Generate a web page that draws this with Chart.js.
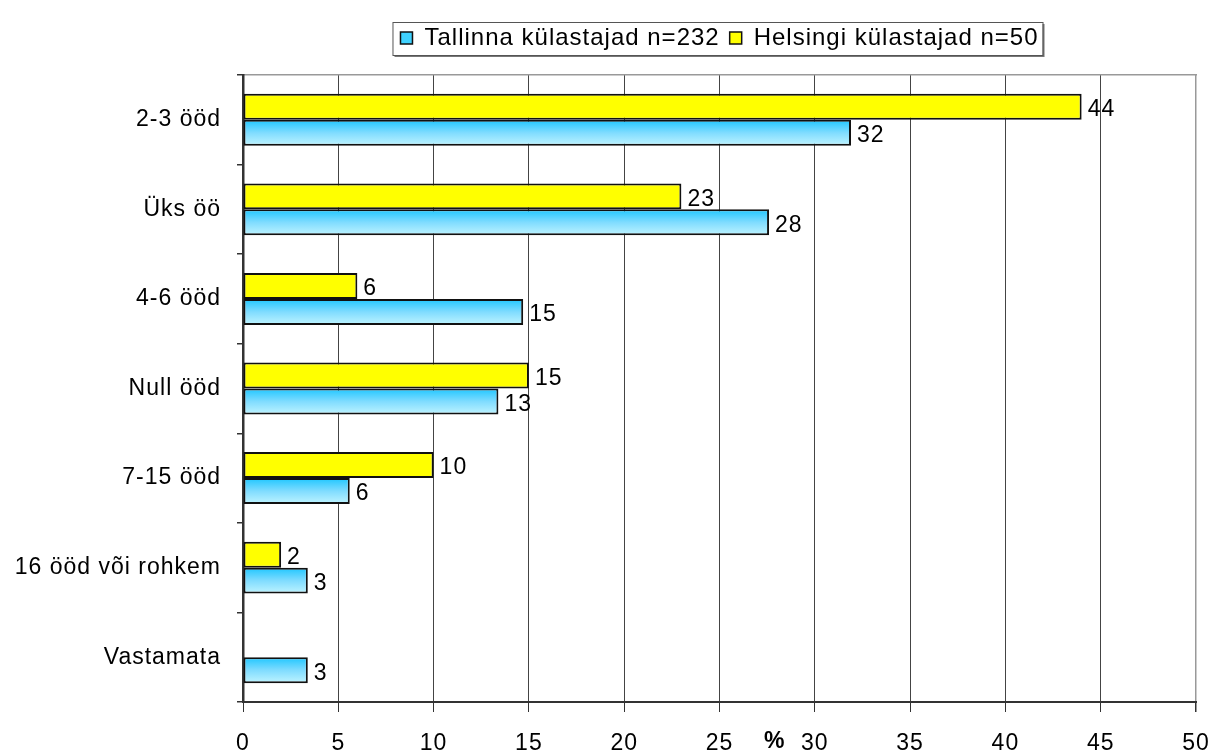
<!DOCTYPE html>
<html>
<head>
<meta charset="utf-8">
<script src="https://cdn.jsdelivr.net/npm/chart.js@4.4.0/dist/chart.umd.min.js"></script>
<style>
  html, body { margin: 0; padding: 0; background: #fff; }
  #wrap { width: 1212px; height: 755px; }
</style>
</head>
<body>
<div id="wrap"><canvas id="chart" width="1212" height="755"></canvas></div>
<script>
// andmed
const kategooriad = ['2-3 ööd', 'Üks öö', '4-6 ööd', 'Null ööd', '7-15 ööd', '16 ööd või rohkem', 'Vastamata'];
const tallinn = [31.9, 27.6, 14.7, 13.4, 5.6, 3.4, 3.4];
const helsingi = [44, 23, 6, 15, 10, 2, null];
const xTicks = [0, 5, 10, 15, 20, 25, 30, 35, 40, 45, 50];
const seeriaNimed = ['Tallinna külastajad n=232', 'Helsingi külastajad n=50'];

const FONT = 'Arial, "Liberation Sans", sans-serif';
const FS = 23;

const tulpPlugin = {
  id: 'tulpPlugin',
  beforeLayout(chart) {
    // veidi laiem kiri nagu originaalis (ka mõõtmisel)
    chart.ctx.letterSpacing = '1px';
  },
  beforeDraw(chart) {
    const ctx = chart.ctx;
    ctx.letterSpacing = '1px';
    // legendi raam (enne legendi teksti)
    const lg = chart.legend;
    if (lg && lg.legendHitBoxes.length) {
      const hb = lg.legendHitBoxes;
      const l = Math.min(...hb.map(b => b.left)) - 8;
      const r = Math.max(...hb.map(b => b.left + b.width)) + 4;
      const t = hb[0].top - 4;
      const b = hb[0].top + hb[0].height + 5;
      ctx.save();
      ctx.fillStyle = '#777';
      ctx.fillRect(l + 2, t + 2, r - l, b - t);
      ctx.fillStyle = '#fff';
      ctx.fillRect(l, t, r - l, b - t);
      ctx.strokeStyle = '#555';
      ctx.lineWidth = 1;
      ctx.strokeRect(l + 0.5, t + 0.5, r - l, b - t);
      ctx.restore();
    }
  },
  beforeDatasetsDraw(chart) {
    // sinine gradient iga tulba sees
    const ctx = chart.ctx;
    chart.data.datasets.forEach((ds, i) => {
      if (!ds.gradient) return;
      chart.getDatasetMeta(i).data.forEach(el => {
        const top = el.y - el.height / 2;
        const g = ctx.createLinearGradient(0, top, 0, top + el.height);
        g.addColorStop(0, '#1ec6ff');
        g.addColorStop(0.5, '#80dcff');
        g.addColorStop(1, '#bff4ff');
        el.options.backgroundColor = g;
      });
    });
  },
  afterDatasetsDraw(chart) {
    const ctx = chart.ctx;
    ctx.save();
    ctx.font = FS + 'px ' + FONT;
    ctx.fillStyle = '#000';
    ctx.textBaseline = 'middle';
    ctx.textAlign = 'left';
    chart.data.datasets.forEach((ds, i) => {
      chart.getDatasetMeta(i).data.forEach((el, j) => {
        const v = ds.data[j];
        if (v === null || v === undefined) return;
        ctx.fillText(v.toFixed(0), el.x + 6, el.y + 3);
      });
    });
    ctx.restore();
  },
  afterDraw(chart) {
    const ctx = chart.ctx;
    ctx.save();
    const xs = chart.scales.x;
    ctx.font = 'bold ' + FS + 'px ' + FONT;
    ctx.fillStyle = '#000';
    ctx.textAlign = 'center';
    ctx.textBaseline = 'middle';
    ctx.fillText('%', xs.getPixelForValue(27.9), 742);
    ctx.restore();
  }
};

new Chart(document.getElementById('chart'), {
  type: 'bar',
  data: {
    labels: kategooriad,
    datasets: [
      {
        label: seeriaNimed[1],
        data: helsingi,
        backgroundColor: '#ffff00',
        borderColor: '#111',
        borderWidth: 2,
        borderSkipped: false,
        categoryPercentage: 0.58,
        barPercentage: 1
      },
      {
        label: seeriaNimed[0],
        data: tallinn,
        gradient: true,
        // funktsioon, et igal tulbal oleks oma options-objekt
        backgroundColor: () => '#5fd6ff',
        borderColor: '#111',
        borderWidth: 2,
        borderSkipped: false,
        categoryPercentage: 0.58,
        barPercentage: 1
      }
    ]
  },
  options: {
    indexAxis: 'y',
    responsive: false,
    animation: false,
    layout: { padding: { top: 16, right: 16, left: 0, bottom: 0 } },
    plugins: {
      legend: {
        position: 'top',
        fullSize: false,
        reverse: true,
        labels: {
          font: { family: FONT, size: 24 },
          color: '#000',
          boxWidth: 12,
          boxHeight: 12,
          padding: 10,
          generateLabels(chart) {
            const items = Chart.defaults.plugins.legend.labels.generateLabels(chart);
            items.forEach(it => {
              it.fillStyle = it.datasetIndex === 1 ? '#3fd2ff' : '#ffff00';
              it.strokeStyle = '#111';
              it.lineWidth = 1.5;
            });
            return items;
          }
        }
      },
      tooltip: { enabled: false }
    },
    scales: {
      x: {
        min: 0,
        max: 50,
        afterBuildTicks(scale) {
          scale.ticks = xTicks.map(v => ({ value: v }));
        },
        afterFit(scale) {
          scale.height = 53;
          scale.paddingLeft = 0;
          scale.paddingRight = 0;
        },
        ticks: {
          font: { family: FONT, size: FS },
          color: '#000',
          padding: 18,
          maxRotation: 0
        },
        grid: {
          color: (c) => c.tick && c.tick.value === 50 ? '#999' : '#444',
          lineWidth: (c) => c.tick && c.tick.value === 50 ? 1.5 : 1,
          tickLength: 10,
          tickColor: '#333'
        },
        border: { color: '#333', width: 2 }
      },
      // ülemine tühi telg: annab vahe legendi ja joonise vahele ning halli ülaserva
      xTop: {
        type: 'linear',
        position: 'top',
        min: 0,
        max: 50,
        afterFit(scale) {
          scale.height = 15;
          scale.paddingLeft = 0;
          scale.paddingRight = 0;
        },
        ticks: { display: false },
        grid: { display: false },
        border: { color: '#999', width: 1.5 }
      },
      y: {
        afterFit(scale) { scale.width = 243; },
        ticks: {
          font: { family: FONT, size: FS },
          color: '#000',
          padding: 16
        },
        grid: {
          offset: true,
          drawOnChartArea: false,
          tickLength: 6,
          tickColor: '#333',
          lineWidth: 1.5
        },
        border: { color: '#333', width: 2.5 }
      }
    }
  },
  plugins: [tulpPlugin]
});
</script>
</body>
</html>
